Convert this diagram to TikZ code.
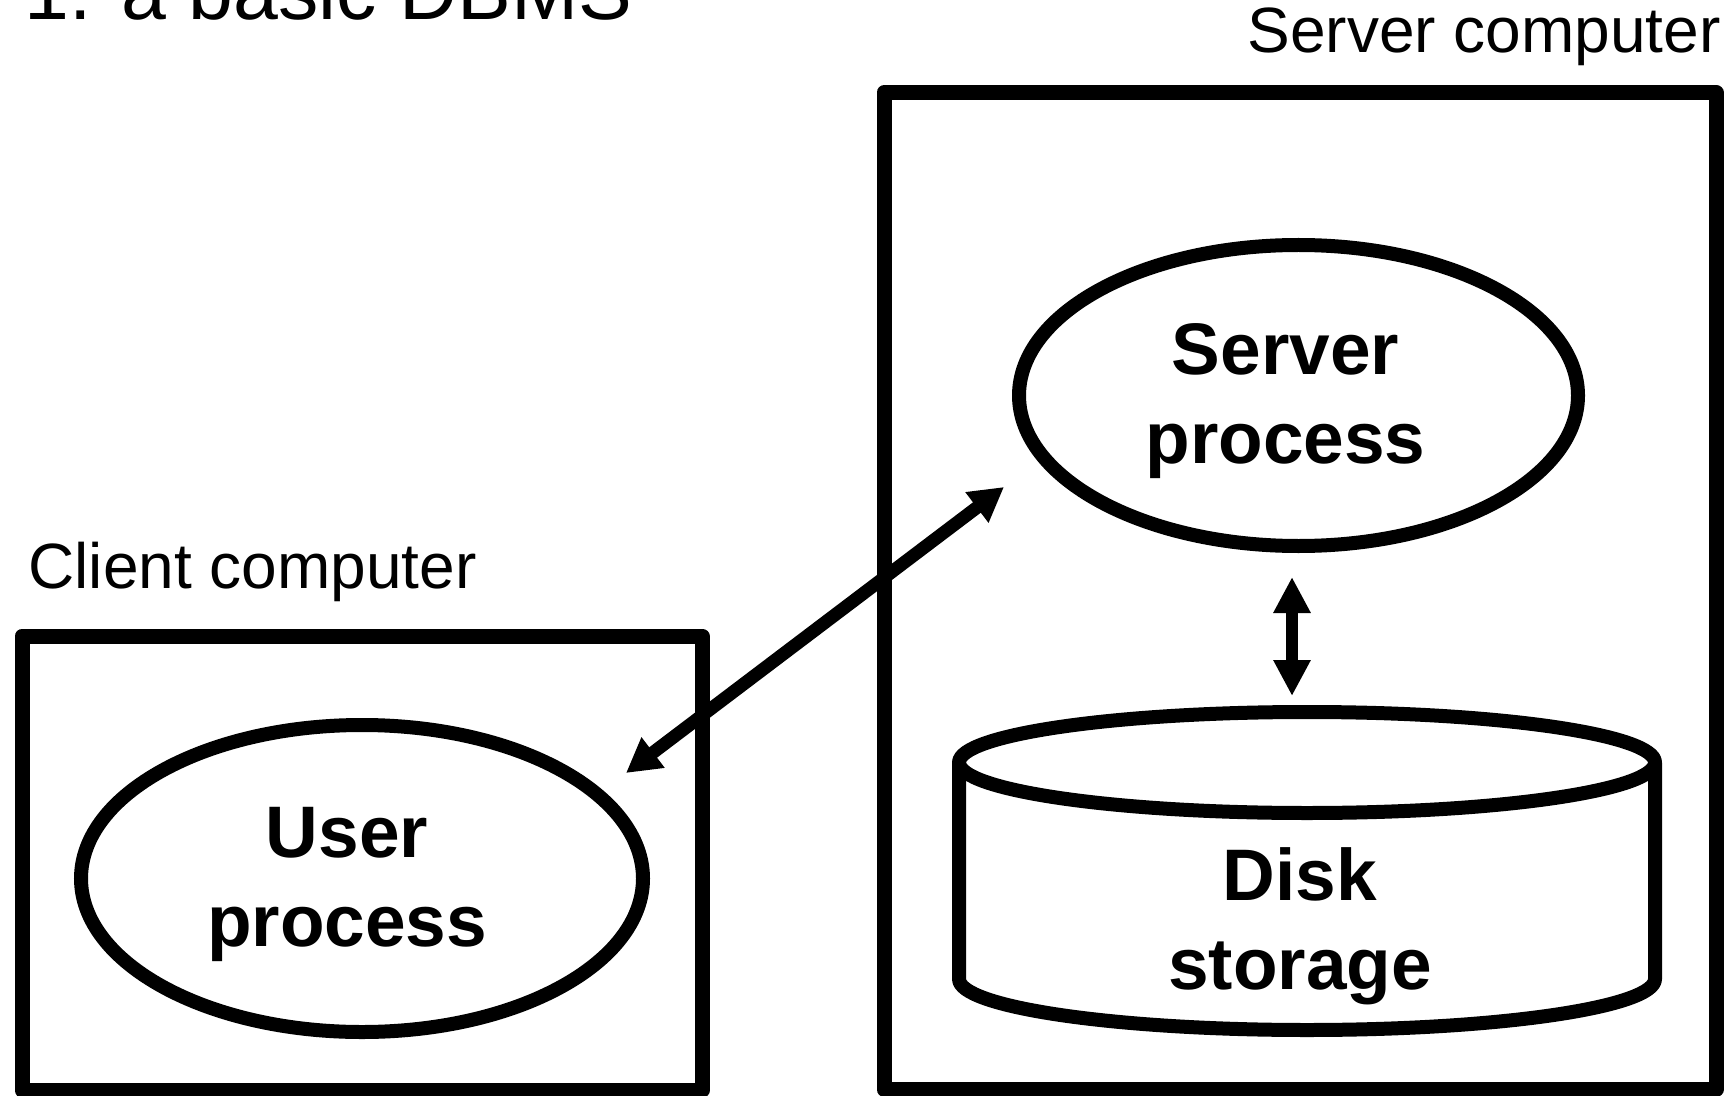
\documentclass[tikz,border=0pt]{standalone}
\usepackage{fontspec}
\setmainfont{Liberation Sans}
\usetikzlibrary{arrows.meta,calc,shapes.geometric}
\begin{document}
\begin{tikzpicture}[x=0.5pt,y=-0.5pt,
  box/.style={draw,line width=7.5pt,line join=round,inner sep=0pt,outer sep=0pt},
  proc/.style={draw,ellipse,line width=7pt,inner sep=0pt,outer sep=0pt},
  ptext/.style={inner sep=0pt,align=center,font=\bfseries\fontsize{36.5}{44.5}\selectfont},
  cyl/.style={line width=7pt,line join=round},
  lbl/.style={inner sep=0pt,font=\fontsize{32}{37}\selectfont},
  arrA/.style={line width=6.5pt,{Triangle[length=17pt,width=18pt]}-{Triangle[length=17pt,width=18pt]}},
  arrB/.style={line width=6pt,{Triangle[length=18pt,width=17.5pt]}-{Triangle[length=18pt,width=17.5pt]}}]
\useasboundingbox (0,0) rectangle (1733,1096);
% title
\node[inner sep=0pt,anchor=base west,font=\fontsize{40.3}{46}\selectfont] (title) at (24,20) {1. a basic DBMS};
% boxes
\node[box,minimum width=340pt,minimum height=227pt] (client) at (362,863) {};
\node[box,minimum width=416pt,minimum height=498.5pt] (server) at (1300,591) {};
\node[lbl,anchor=base west] (clientlbl) at (28,588) {Client computer};
\node[lbl,anchor=base east] (serverlbl) at (1721,53) {Server computer};
% processes
\node[proc,minimum width=279.5pt,minimum height=150.5pt] (srv) at (1298.5,395.5) {};
\node[proc,minimum width=281pt,minimum height=153.5pt] (usr) at (362,878.5) {};
\node[ptext] (srvtxt) at (1285.5,401) {Server\\process};
\node[ptext] (usrtxt) at (347,884) {User\\process};
% disk cylinder
\coordinate (cyltop) at (1307,712);
\draw[cyl] (959,762.5) -- (959,979) arc[start angle=180,end angle=0,x radius=348,y radius=51] -- (1655,762.5);
\draw[cyl] (1307,762.5) ellipse[x radius=348,y radius=50.5];
\node[ptext] (disk) at (1300,926) {Disk\\storage};
% connectors
\draw[arrA] ($(usr.center)+(264,-105.5)$) -- ($(srv.center)+(-294.5,91.5)$);
\draw[arrB] ($(srv.south)+(-6.5,31)$) -- ($(cyltop)+(-15,-16)$);
\end{tikzpicture}
\end{document}
